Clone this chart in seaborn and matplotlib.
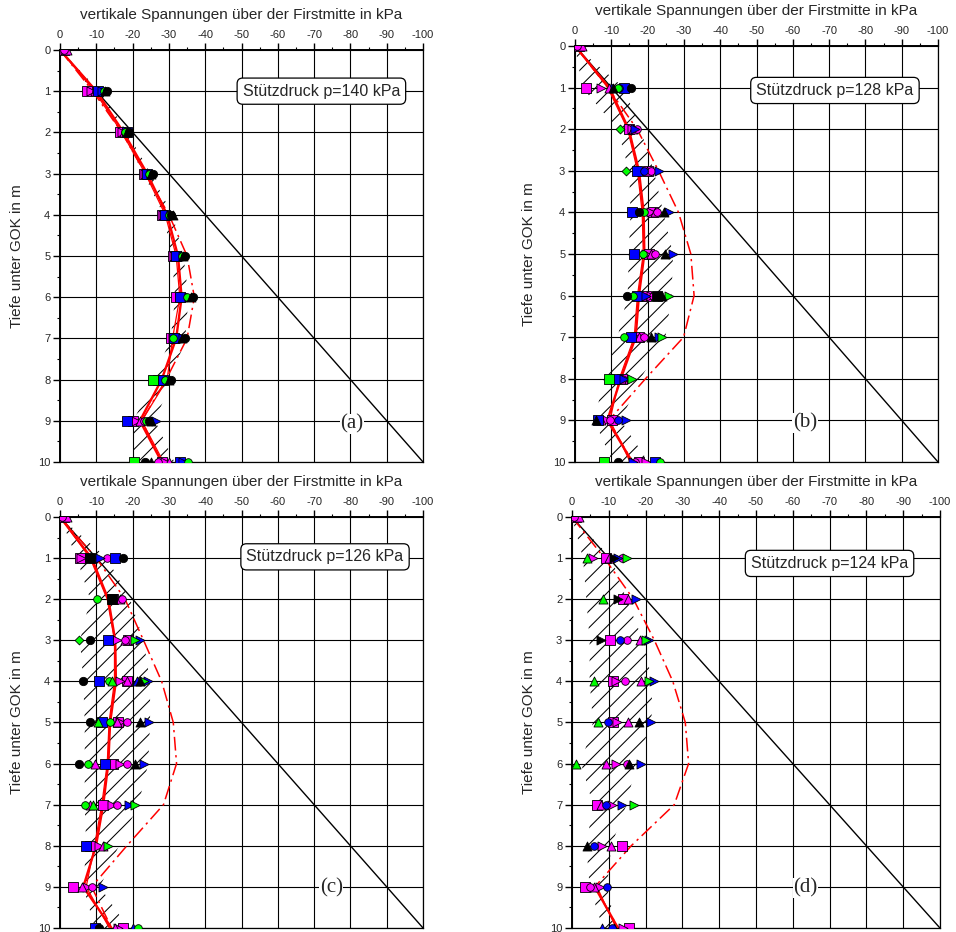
import numpy as np
import matplotlib
matplotlib.use("Agg")
import matplotlib.pyplot as plt
import seaborn as sns
from matplotlib.ticker import MultipleLocator

nan = np.nan

# depth below ground surface (m) and stress axis ticks (kPa)
DEPTH = [0, 1, 2, 3, 4, 5, 6, 7, 8, 9, 10]
X_TICKS = [0, -10, -20, -30, -40, -50, -60, -70, -80, -90, -100]
Y_TICKS = [0, 1, 2, 3, 4, 5, 6, 7, 8, 9, 10]

TITLE = "vertikale Spannungen über der Firstmitte in kPa"
YLABEL = "Tiefe unter GOK in m"
PANEL_NAMES = ["(a)", "(b)", "(c)", "(d)"]
SUPPORT_PRESSURE = [140, 128, 126, 124]

# geostatic reference line sigma_v = gamma * z
GEOSTATIC_DEPTH = [0, 10]
GEOSTATIC_STRESS = [0, -100]

# ---- p = 140 kPa ----
MEAN_A = [0, -10.0, -17.5, -24.0, -29.5, -32.5, -33.5, -32.0, -28.0, -22.0, -28.0]
MEDIAN_A = [0, -9.5, -17.0, -23.5, -29.0, -32.0, -33.0, -31.0, -29.5, -22.5, -28.5]
THEORY_A = [0, -9.0, -17.0, -23.5, -30.0, -35.0, -37.0, -35.0, -29.2, -22.5, -28.0]
LOW_A = [0, -9.0, -17.0, -23.0, -28.5, -30.8, -31.7, -30.5, -25.8, -20.2, -20.3]
HIGH_A = [0, -11.0, -18.5, -25.0, -31.0, -34.0, -35.4, -34.5, -30.8, -26.2, -31.5]
POINTS_A = {
    "ms": [-1.0, -7.5, -16.5, -23.0, -28.0, -31.0, -32.0, -30.5, -27.0, -20.0, -28.0],
    "m>": [-1.5, -8.5, -17.0, -23.5, -28.5, -31.5, -33.0, -31.0, -27.5, -21.0, -29.0],
    "m^": [-2.0, -9.5, -17.5, -24.0, -29.5, -32.5, -33.5, -32.0, -28.0, -22.0, -30.0],
    "mo": [-1.0, -10.0, -18.0, -24.5, -30.0, -33.0, -34.5, -33.0, -29.0, -23.0, -27.0],
    "bs": [nan, -10.5, -18.5, -24.0, -29.0, -32.0, -33.0, -31.5, -28.5, -18.5, -33.0],
    "b>": [nan, -11.5, -19.0, -25.0, -30.5, -34.0, -35.5, -34.0, -30.0, -26.5, -34.0],
    "go": [nan, -12.0, -18.0, -24.5, -30.0, -33.5, -35.0, -31.0, -29.0, -23.7, -35.3],
    "gs": [nan, nan, nan, nan, nan, nan, nan, nan, -25.5, nan, -20.5],
    "ko": [nan, -13.0, -19.0, -25.5, -30.5, -34.5, -36.5, -34.5, -30.5, -24.5, -23.4],
    "k^": [nan, -12.5, -18.5, -25.0, -31.0, -34.0, -36.0, -33.5, -30.0, -25.0, -25.0],
}

# ---- p = 128 kPa ----
MEAN_B = [0, -9.4, -14.8, -17.6, -18.9, -19.1, -17.6, -16.7, -12.6, -8.9, -15.8]
MEDIAN_B = [0, -9.0, -14.5, -17.2, -18.5, -18.8, -17.2, -16.3, -12.2, -9.6, -15.2]
THEORY_B = [0, -9.0, -17.1, -23.0, -28.5, -31.9, -32.8, -29.9, -19.4, -9.3, -15.8]
LOW_B = [0, -2.0, -11.7, -14.9, -15.3, -14.8, -14.5, -11.7, -8.0, -5.3, -10.3]
HIGH_B = [0, -13.4, -18.0, -21.7, -24.3, -27.0, -26.6, -24.9, -18.0, -12.6, -20.2]
POINTS_B = {
    "ms": [-1.0, -3.0, -14.8, -20.0, -21.5, -20.5, -19.5, -17.5, -13.0, -10.3, -17.6],
    "m>": [-1.5, -7.1, -15.7, -18.5, -20.8, -19.6, -20.8, -16.7, -14.0, -8.9, -19.5],
    "m^": [-2.0, -9.4, -16.0, -19.8, -22.1, -21.0, -18.5, -17.5, -12.6, -7.1, -15.5],
    "mo": [-0.5, -12.6, -17.1, -20.8, -22.5, -22.1, -21.5, -18.9, -11.5, -9.5, -16.5],
    "bs": [nan, -13.4, nan, -17.1, -15.8, -16.2, -17.1, -15.3, -11.0, -6.2, -22.0],
    "b>": [nan, -11.0, -16.5, -23.0, -25.8, -27.1, -19.5, -23.0, -13.5, -14.0, -16.0],
    "bo": [nan, -12.0, nan, -19.0, nan, nan, nan, nan, nan, -11.7, nan],
    "go": [nan, -11.7, nan, nan, -18.9, -18.8, -16.0, -13.4, nan, nan, -23.5],
    "gD": [nan, nan, -12.5, -14.0, nan, nan, nan, nan, nan, nan, nan],
    "gs": [nan, nan, nan, nan, nan, nan, nan, nan, -9.4, nan, -8.0],
    "g>": [nan, nan, nan, nan, nan, nan, -25.8, -24.0, -15.7, nan, nan],
    "ko": [nan, -15.3, nan, nan, -17.6, nan, -14.4, nan, nan, nan, -11.7],
    "k^": [nan, -10.5, nan, nan, -24.4, -24.9, -24.0, -20.8, nan, -5.7, nan],
    "ks": [nan, nan, nan, nan, nan, nan, -22.6, nan, nan, nan, nan],
}

# ---- p = 126 kPa ----
MEAN_C = [0, -8.7, -13.3, -15.2, -15.4, -13.8, -13.3, -11.9, -9.9, -6.4, -14.2]
MEDIAN_C = [0, -8.3, -13.0, -15.0, -15.0, -13.5, -13.0, -11.5, -9.5, -7.2, -13.6]
THEORY_C = [0, -10.0, -17.9, -23.0, -28.0, -31.2, -32.1, -28.5, -18.4, -8.7, -14.2]
LOW_C = [0, -4.6, -8.3, -5.5, -6.4, -6.8, -6.8, -6.8, -7.2, -6.4, -9.6]
HIGH_C = [0, -12.9, -19.3, -23.0, -24.8, -24.8, -24.3, -21.6, -16.2, -11.0, -18.8]
POINTS_C = {
    "ms": [-1.0, -5.5, -14.5, -18.8, -18.5, -16.0, -14.7, -11.9, -8.3, -3.7, -17.4],
    "m>": [-1.5, -5.8, -14.8, -15.6, -16.5, -16.5, -16.5, -14.2, -10.6, -7.3, -16.0],
    "m^": [-2.0, -9.0, -16.5, -17.9, -18.4, -15.6, -9.6, -8.3, -11.9, -6.0, -15.2],
    "mo": [-0.5, -12.9, -17.0, -18.0, nan, -18.4, -18.4, -15.6, nan, -8.7, nan],
    "bs": [nan, -15.2, nan, -13.3, -10.6, -11.5, -12.4, nan, -7.2, nan, -9.6],
    "b>": [nan, -11.0, nan, -22.0, -24.3, -24.6, -23.0, -19.1, nan, -11.9, nan],
    "b^": [nan, nan, nan, nan, -21.1, nan, nan, nan, nan, nan, -20.2],
    "go": [nan, nan, -10.3, nan, -13.6, -13.8, -7.8, -6.9, nan, nan, -21.6],
    "gD": [nan, nan, nan, -5.1, nan, nan, nan, nan, nan, nan, nan],
    "g^": [nan, nan, nan, nan, -14.3, -10.5, nan, -9.0, nan, nan, nan],
    "g>": [nan, nan, nan, -20.7, -23.0, nan, nan, -20.7, -13.3, nan, nan],
    "ko": [nan, -17.4, nan, -8.3, -6.2, -8.3, -5.1, nan, nan, nan, -10.6],
    "ks": [nan, -8.3, -14.2, nan, nan, nan, nan, nan, nan, nan, nan],
    "k^": [nan, nan, nan, nan, -22.0, -22.0, -20.7, nan, nan, nan, nan],
}

# ---- p = 124 kPa ----
MEAN_D = [nan, nan, nan, nan, nan, nan, nan, nan, nan, -6.2, -12.5]
MEDIAN_D = [nan, nan, nan, nan, nan, nan, nan, nan, nan, -6.8, -12.0]
THEORY_D = [0, -8.8, -16.7, -22.4, -27.4, -30.8, -31.7, -27.8, -16.1, -6.2, -12.5]
LOW_D = [0, -3.0, -3.9, -4.8, -4.8, -5.7, -2.5, -5.7, -3.9, -4.8, -8.4]
HIGH_D = [0, -10.7, -14.8, -19.3, -21.8, -21.6, -17.5, -14.8, -10.7, -9.5, -12.0]
POINTS_D = {
    "ms": [-1.0, -9.3, -13.9, -10.3, -11.2, -11.2, nan, -6.9, -13.7, -3.5, -15.5],
    "m>": [-1.5, -5.7, nan, nan, -12.0, -12.3, -12.0, -11.0, -8.1, -7.6, -13.9],
    "m^": [-2.0, -10.0, -15.2, -18.6, -18.7, -15.3, -9.3, -8.0, -10.7, -6.0, -11.5],
    "mo": [-0.5, -13.5, nan, -15.0, -14.4, nan, -15.0, nan, nan, -5.0, nan],
    "b>": [nan, -12.5, -17.5, -21.0, -22.4, -21.6, -18.8, -13.5, nan, nan, nan],
    "bo": [nan, nan, nan, -13.0, nan, -9.8, nan, -9.3, -6.0, -9.4, -10.8],
    "b^": [nan, nan, nan, nan, nan, nan, nan, nan, nan, nan, -8.1],
    "g^": [nan, -4.2, -8.5, nan, -5.9, -7.1, -1.1, nan, nan, nan, nan],
    "g>": [nan, -15.0, nan, -20.0, -21.0, nan, nan, -16.9, nan, nan, nan],
    "k>": [nan, -11.5, -12.5, -7.8, nan, nan, nan, nan, nan, nan, nan],
    "k^": [nan, nan, nan, nan, nan, -18.3, -15.5, nan, -4.2, nan, nan],
}

# marker shape, face colour and size (pt) for each sensor group
MARKER_STYLE = {
    "ms": ("s", "#ff00ff", 6.5), "mo": ("o", "#ff00ff", 5.5),
    "m^": ("^", "#ff00ff", 6.5), "m>": (">", "#ff00ff", 6.5),
    "bs": ("s", "#0000ff", 6.5), "bo": ("o", "#0000ff", 5.5),
    "b^": ("^", "#0000ff", 6.5), "b>": (">", "#0000ff", 6.5),
    "gs": ("s", "#00ff00", 6.5), "go": ("o", "#00ff00", 5.5),
    "g^": ("^", "#00ff00", 6.5), "g>": (">", "#00ff00", 6.5),
    "gD": ("D", "#00ff00", 4.5),
    "ks": ("s", "#000000", 6.5), "ko": ("o", "#000000", 6.0),
    "k^": ("^", "#000000", 6.5), "k>": (">", "#000000", 6.5),
}

PANELS = [
    dict(mean=MEAN_A, median=MEDIAN_A, theory=THEORY_A, low=LOW_A, high=HIGH_A, points=POINTS_A),
    dict(mean=MEAN_B, median=MEDIAN_B, theory=THEORY_B, low=LOW_B, high=HIGH_B, points=POINTS_B),
    dict(mean=MEAN_C, median=MEDIAN_C, theory=THEORY_C, low=LOW_C, high=HIGH_C, points=POINTS_C),
    dict(mean=MEAN_D, median=MEDIAN_D, theory=THEORY_D, low=LOW_D, high=HIGH_D, points=POINTS_D),
]

# layout: axes rectangles (figure fraction) and annotation anchors (data coords)
AX_RECTS = [
    [0.0628, 0.5043, 0.3797, 0.4421],
    [0.6015, 0.5043, 0.3797, 0.4464],
    [0.0628, 0.0043, 0.3797, 0.4410],
    [0.5983, 0.0043, 0.3849, 0.4410],
]
BOX_POS = [(-72, 1.0), (-71.6, 1.07), (-73, 0.97), (-70, 1.13)]
NAME_POS = [(-80.4, 9.08), (-63.4, 9.06), (-74.7, 9.03), (-63.4, 9.03)]
YLABEL_X = [-0.099, -0.107, -0.099, -0.098]

sns.set_style("ticks")
plt.rcParams["font.family"] = ["Liberation Sans", "DejaVu Sans"]
plt.rcParams["axes.unicode_minus"] = False
plt.rcParams["hatch.linewidth"] = 0.75

fig = plt.figure(figsize=(9.56, 9.32), dpi=100)

for i, panel in enumerate(PANELS):
    ax = fig.add_axes(AX_RECTS[i])
    ax.set_xlim(0, -100)
    ax.set_ylim(10, 0)
    ax.xaxis.tick_top()
    ax.set_xticks(X_TICKS)
    ax.set_xticklabels([str(v) for v in X_TICKS])
    ax.set_yticks(Y_TICKS)
    ax.xaxis.set_minor_locator(MultipleLocator(5))
    ax.yaxis.set_minor_locator(MultipleLocator(0.5))
    ax.tick_params(which="major", direction="out", length=5, width=1.0,
                   labelsize=8, pad=2, color="black")
    ax.tick_params(which="minor", direction="out", length=2.5, width=0.8, color="black")
    ax.tick_params(axis="x", which="both", top=True, bottom=False)
    ax.grid(True, which="major", color="black", lw=0.8)
    ax.set_axisbelow(True)
    for side, sp in ax.spines.items():
        sp.set_visible(True)
        sp.set_color("black")
        sp.set_linewidth(1.4 if side in ("left", "top") else 0.9)

    # scatter band of the measurements
    ax.fill_betweenx(DEPTH, panel["low"], panel["high"], facecolor="none",
                     edgecolor="black", hatch="//", linewidth=0, zorder=1.5)

    # geostatic line
    sns.lineplot(x=GEOSTATIC_STRESS, y=GEOSTATIC_DEPTH, sort=False, estimator=None,
                 color="black", lw=1.0, ax=ax, zorder=2)

    # analytical curve, median and mean of the measurements
    sns.lineplot(x=panel["theory"], y=DEPTH, sort=False, estimator=None, color="red",
                 lw=1.1, ax=ax, zorder=3, dashes=False, linestyle=(0, (9, 3, 1.5, 3)))
    sns.lineplot(x=panel["median"], y=DEPTH, sort=False, estimator=None, color="red",
                 lw=0.9, ax=ax, zorder=3)
    sns.lineplot(x=panel["mean"], y=DEPTH, sort=False, estimator=None, color="red",
                 lw=1.7, ax=ax, zorder=3)

    # individual sensor readings
    for key, vals in panel["points"].items():
        mk, col, ms = MARKER_STYLE[key]
        sns.scatterplot(x=vals, y=DEPTH, marker=mk, color=col, s=ms ** 2,
                        edgecolor="black", linewidth=0.6, ax=ax, zorder=4)

    ax.text(*BOX_POS[i], f"Stützdruck p={SUPPORT_PRESSURE[i]} kPa", ha="center",
            va="center", fontsize=11.5, zorder=6,
            bbox=dict(boxstyle="round,pad=0.35", fc="white", ec="black", lw=0.9))
    ax.text(*NAME_POS[i], PANEL_NAMES[i], ha="center", va="center", fontsize=15,
            family=["Liberation Serif", "DejaVu Serif"], zorder=6,
            bbox=dict(fc="white", ec="none", pad=0.5))

    ax.text(0.5, 1.085, TITLE, transform=ax.transAxes, ha="center", va="center",
            fontsize=11)
    ax.set_xlabel("")
    ax.set_ylabel(YLABEL, fontsize=11)
    ax.yaxis.set_label_coords(YLABEL_X[i], 0.5)

fig.savefig("out.png", dpi=100)
